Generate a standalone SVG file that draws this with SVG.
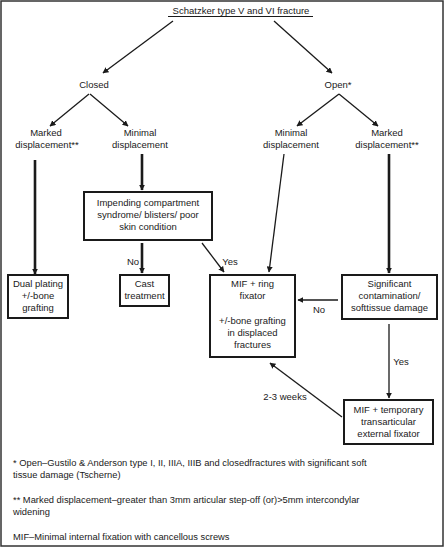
<svg xmlns="http://www.w3.org/2000/svg" width="444" height="547" viewBox="0 0 444 547">
<defs>
<style>
text{font-family:"Liberation Sans",Arial,sans-serif;font-size:9.5px;fill:#1a1a1a;text-anchor:middle}
.fn{text-anchor:start;font-size:9.35px}
.box{fill:#fff;stroke:#1a1a1a;stroke-width:2}
.c{stroke:#1a1a1a;stroke-width:1.3;fill:none;marker-end:url(#ah)}
.t{stroke:#1a1a1a;stroke-width:2.6;fill:none;marker-end:url(#ahb)}
</style>
<marker id="ah" viewBox="0 0 10 10" refX="9" refY="5" markerWidth="6" markerHeight="6" markerUnits="userSpaceOnUse" orient="auto"><path d="M0,0L10,5L0,10z" fill="#1a1a1a"/></marker>
<marker id="ahb" viewBox="0 0 10 10" refX="9" refY="5" markerWidth="6" markerHeight="6" markerUnits="userSpaceOnUse" orient="auto"><path d="M0,0L10,5L0,10z" fill="#1a1a1a"/></marker>
</defs>
<rect x="1" y="1" width="442" height="545" fill="#fff" stroke="#333" stroke-width="1.5"/>
<g id="connectors">
<line class="c" x1="173" y1="21" x2="103" y2="73"/>
<line class="c" x1="274" y1="21" x2="332" y2="73"/>
<line class="c" x1="89" y1="94" x2="50" y2="126"/>
<line class="c" x1="90" y1="94" x2="128" y2="126"/>
<line class="c" x1="339" y1="94" x2="297" y2="126"/>
<line class="c" x1="339" y1="94" x2="378" y2="126"/>
<line class="t" x1="35" y1="160" x2="35" y2="274"/>
<line class="t" x1="142" y1="154" x2="142" y2="190"/>
<line class="t" x1="142" y1="243" x2="142" y2="273"/>
<line class="c" x1="202" y1="243" x2="224" y2="272"/>
<line class="c" x1="284" y1="154" x2="269" y2="272"/>
<line class="t" x1="389" y1="154" x2="389" y2="273"/>
<line class="c" x1="338" y1="300" x2="298" y2="300"/>
<line class="c" x1="389" y1="324" x2="389" y2="398"/>
<line class="c" x1="342" y1="417" x2="270" y2="363"/>
<text x="133" y="265">No</text>
<text x="230" y="265">Yes</text>
<text x="319" y="313">No</text>
<text x="401" y="365">Yes</text>
<text x="285" y="400">2-3 weeks</text>
</g>
<g id="title">
<text x="241" y="14">Schatzker type V and VI fracture</text>
<line x1="168" y1="16.5" x2="313" y2="16.5" stroke="#1a1a1a" stroke-width="1"/>
</g>
<g id="closed"><text x="94" y="88">Closed</text></g>
<g id="open"><text x="338" y="88">Open*</text></g>
<g id="closed-marked"><text x="46" y="136">Marked</text><text x="47" y="148">displacement**</text></g>
<g id="closed-minimal"><text x="140" y="136">Minimal</text><text x="140" y="148">displacement</text></g>
<g id="open-minimal"><text x="291" y="136">Minimal</text><text x="291" y="148">displacement</text></g>
<g id="open-marked"><text x="387" y="136">Marked</text><text x="387" y="148">displacement**</text></g>
<g id="impending">
<rect class="box" x="84" y="192" width="128" height="48"/>
<text x="148" y="206">Impending compartment</text>
<text x="148" y="218">syndrome/ blisters/ poor</text>
<text x="148" y="230">skin condition</text>
</g>
<g id="dual-plating">
<rect class="box" x="8" y="275" width="60" height="43"/>
<text x="38" y="287">Dual plating</text>
<text x="38" y="299">+/-bone</text>
<text x="38" y="311">grafting</text>
</g>
<g id="cast">
<rect class="box" x="120" y="275" width="49" height="31"/>
<text x="144.5" y="287">Cast</text>
<text x="144.5" y="299">treatment</text>
</g>
<g id="mif-ring">
<rect class="box" x="210" y="275" width="85" height="82"/>
<text x="252.5" y="287">MIF + ring</text>
<text x="252.5" y="299">fixator</text>
<text x="252.5" y="324">+/-bone grafting</text>
<text x="252.5" y="336">in displaced</text>
<text x="252.5" y="348">fractures</text>
</g>
<g id="significant">
<rect class="box" x="342" y="275" width="95" height="44"/>
<text x="389.5" y="287">Significant</text>
<text x="389.5" y="299">contamination/</text>
<text x="389.5" y="311">softtissue damage</text>
</g>
<g id="mif-temp">
<rect class="box" x="344" y="400" width="89" height="44"/>
<text x="388.5" y="413">MIF + temporary</text>
<text x="388.5" y="425">transarticular</text>
<text x="388.5" y="437">external fixator</text>
</g>
<g id="footnotes">
<text class="fn" x="13" y="466">* Open–Gustilo &amp; Anderson type I, II, IIIA, IIIB and closedfractures with significant soft</text>
<text class="fn" x="13" y="478">tissue damage (Tscherne)</text>
<text class="fn" x="13" y="503">** Marked displacement–greater than 3mm articular step-off (or)&gt;5mm intercondylar</text>
<text class="fn" x="13" y="515">widening</text>
<text class="fn" x="13" y="540">MIF–Minimal internal fixation with cancellous screws</text>
</g>
</svg>
